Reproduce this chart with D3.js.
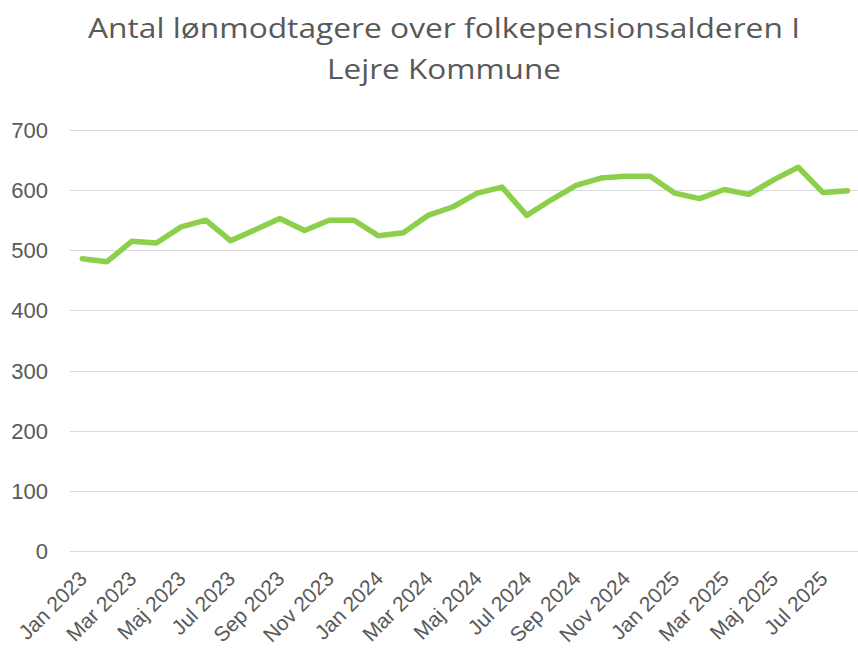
<!DOCTYPE html>
<html><head><meta charset="utf-8">
<script src="https://cdn.jsdelivr.net/npm/d3@7"></script>
<style>body{margin:0;background:#fff;}svg{display:block;}</style>
</head><body>
<script>
const titleLines = ["Antal lønmodtagere over folkepensionsalderen I", "Lejre Kommune"];
const months = ["Jan","Feb","Mar","Apr","Maj","Jun","Jul","Aug","Sep","Okt","Nov","Dec"];
const categories = [];
[2023, 2024, 2025].forEach(y => months.forEach(m => categories.push(m + " " + y)));
categories.splice(32);
const values = [486, 481, 515, 512, 539, 550, 516, 534, 553, 533, 550, 550,
                524, 529, 558, 572, 595, 605, 558, 584, 608, 620, 623, 623,
                595, 586, 601, 593, 617, 638, 596, 599];
const yTicks = [0, 100, 200, 300, 400, 500, 600, 700];

const W = 858, H = 653;
const svg = d3.select("body").append("svg").attr("width", W).attr("height", H);
const x = d3.scaleBand().domain(categories).range([70, 860]);
const y = d3.scaleLinear().domain([0, 700]).range([551, 130]);
const gray = "#595959";

svg.append("g").selectAll("line").data(yTicks).join("line")
  .attr("x1", 70).attr("x2", 858)
  .attr("y1", d => Math.round(y(d)) + 0.5).attr("y2", d => Math.round(y(d)) + 0.5)
  .attr("stroke", "#d9d9d9").attr("stroke-width", 1);

svg.append("g").selectAll("text").data(yTicks).join("text")
  .attr("x", 48).attr("y", d => y(d) + 8)
  .attr("text-anchor", "end")
  .attr("font-family", "Liberation Sans, Arial, sans-serif")
  .attr("font-size", 22).attr("fill", gray)
  .text(d => d);

const shown = categories.filter((c, i) => i % 2 === 0);
svg.append("g").selectAll("text").data(shown).join("text")
  .attr("transform", d => `translate(${x(d) + x.bandwidth() / 2 + 6},${580}) rotate(-45)`)
  .attr("text-anchor", "end")
  .attr("font-family", "Liberation Sans, Arial, sans-serif")
  .attr("font-size", 21).attr("fill", gray)
  .text(d => d);

const line = d3.line()
  .x((d, i) => x(categories[i]) + x.bandwidth() / 2)
  .y(d => y(d));
svg.append("path").datum(values)
  .attr("d", line)
  .attr("fill", "none")
  .attr("stroke", "#8ccf4a")
  .attr("stroke-width", 5.5)
  .attr("stroke-linejoin", "round")
  .attr("stroke-linecap", "round");

const titleWidths = [712, 234];
svg.append("g").selectAll("text").data(titleLines).join("text")
  .attr("x", 444).attr("y", (d, i) => 38 + i * 41)
  .attr("text-anchor", "middle")
  .attr("font-family", "Open Sans, sans-serif")
  .attr("font-size", 28).attr("fill", gray)
  .attr("textLength", (d, i) => titleWidths[i])
  .attr("lengthAdjust", "spacingAndGlyphs")
  .text(d => d);
</script>
</body></html>
